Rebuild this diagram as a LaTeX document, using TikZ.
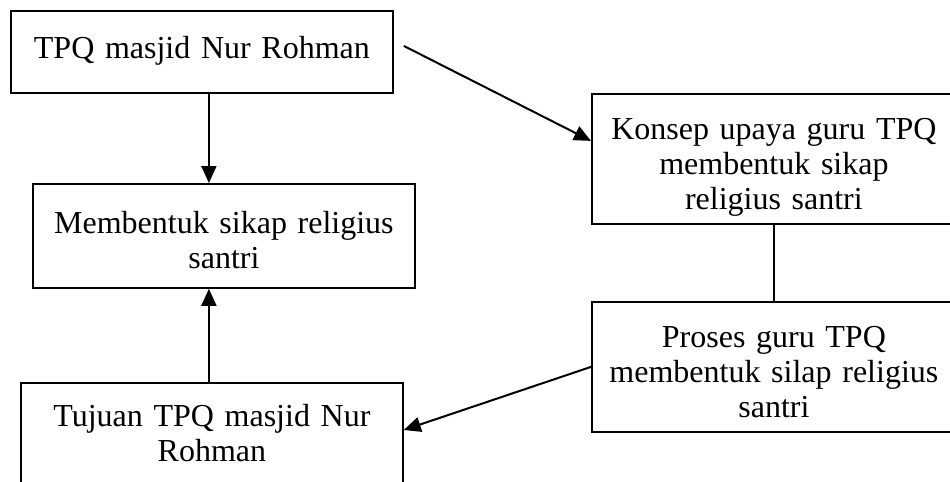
\documentclass[tikz,border=0pt]{standalone}
\usepackage{fontspec}
\setmainfont{Liberation Serif}
\usetikzlibrary{positioning}
\usetikzlibrary{arrows.meta}

\begin{document}
\begin{tikzpicture}[x=0.5pt, y=-0.5pt,
    kotak/.style={draw, line width=0.9pt, align=center, anchor=north west, inner xsep=0pt, inner ysep=0pt, font=\fontsize{16}{17.5}\selectfont},
    panah/.style={-{Triangle[length=8.5pt, width=7.5pt]}, line width=1pt}]
    \useasboundingbox (0,0) rectangle (950,482);
    \clip (0,0) rectangle (950,482);

    \node[kotak, text width=191pt, text height=24pt, text depth=17pt] (tpq) at (10,10) {TPQ masjid Nur Rohman};
    \node[kotak, text width=191pt, text height=25pt, text depth=27pt] (sikap) at (32,183) {Membentuk sikap religius\\ santri};
    \node[kotak, text width=191pt, text height=22pt, text depth=60pt] (tujuan) at (20,382) {Tujuan TPQ masjid Nur\\ Rohman};
    \node[kotak, text width=182pt, text height=23pt, text depth=42pt] (konsep) at (591,93) {Konsep upaya guru TPQ\\ membentuk sikap\\ religius santri};
    \node[kotak, text width=182pt, text height=23pt, text depth=42pt] (proses) at (591,301) {Proses guru TPQ\\ membentuk silap religius\\ santri};

    \draw[panah] ([xshift=3.5pt]tpq.south) -- ([xshift=3.5pt]tpq.south |- sikap.north);
    \draw[panah] ([xshift=-1.5pt]tujuan.north) -- ([xshift=-1.5pt]tujuan.north |- sikap.south);
    \draw[panah] ([xshift=5pt, yshift=3pt]tpq.east) -- ([yshift=9pt]konsep.west);
    \draw[line width=1pt] (konsep.south) -- (proses.north);
    \draw[panah] (proses.west) -- ([yshift=-24pt]tujuan.north east);
\end{tikzpicture}
\end{document}
